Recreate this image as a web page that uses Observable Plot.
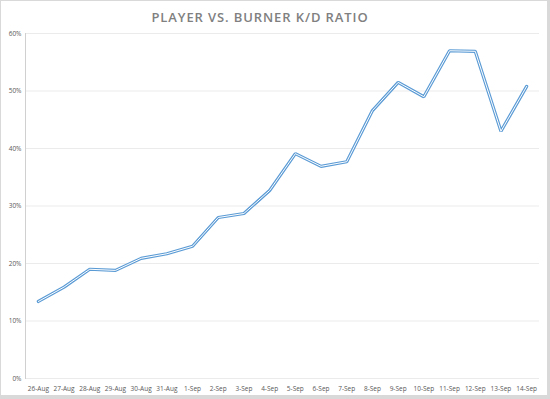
<!DOCTYPE html>
<html><head><meta charset="utf-8">
<script src="https://cdn.jsdelivr.net/npm/d3@7"></script>
<script src="https://cdn.jsdelivr.net/npm/@observablehq/plot@0.6"></script>
<style>
html,body{margin:0;padding:0;background:#d9d9d9;}
#box{position:absolute;left:0;top:0;width:546px;height:394px;background:#fff;border:1px solid #d9d9d9;}
#title{height:28px;line-height:32px;text-align:center;padding-right:28px;font-family:"Open Sans",sans-serif;font-weight:600;font-size:13px;letter-spacing:0.9px;color:#808080;}
svg{display:block;}
</style></head>
<body><div id="box"><div id="title">PLAYER VS. BURNER K/D RATIO</div><div id="chart"></div></div>
<script>
const dates = ["26-Aug","27-Aug","28-Aug","29-Aug","30-Aug","31-Aug","1-Sep","2-Sep","3-Sep","4-Sep","5-Sep","6-Sep","7-Sep","8-Sep","9-Sep","10-Sep","11-Sep","12-Sep","13-Sep","14-Sep"];
const ratio = [0.134,0.159,0.190,0.188,0.209,0.217,0.230,0.280,0.287,0.327,0.391,0.369,0.377,0.466,0.515,0.490,0.570,0.569,0.430,0.508];
const yTicks = [0,0.1,0.2,0.3,0.4,0.5,0.6];
const data = dates.map((d,i)=>({date:d, value:ratio[i]}));
const chart = Plot.plot({
  width: 546, height: 366,
  marginLeft: 24, marginRight: 8, marginTop: 4, marginBottom: 17,
  style: {fontFamily: "'Open Sans', sans-serif", fontSize: "6.5px", color: "#595959", background: "#fff"},
  x: {type: "point", domain: dates, padding: 0.5, round: false, label: null, tickSize: 0, tickPadding: 8},
  y: {domain: [0, 0.6], ticks: yTicks, tickFormat: d3.format(".0%"), label: null, tickSize: 0, tickPadding: 4},
  marks: [
    Plot.ruleY(yTicks, {stroke: "#ebebeb"}),
    Plot.frame({anchor: "left", stroke: "#d0d0d0"}),
    Plot.line(data, {x: "date", y: "value", stroke: "#5b9bd5", strokeWidth: 3.2, strokeLinejoin: "miter"}),
    Plot.line(data, {x: "date", y: "value", stroke: "#ffffff", strokeWidth: 1, strokeLinejoin: "miter"})
  ]
});
document.getElementById("chart").appendChild(chart);
</script></body></html>
